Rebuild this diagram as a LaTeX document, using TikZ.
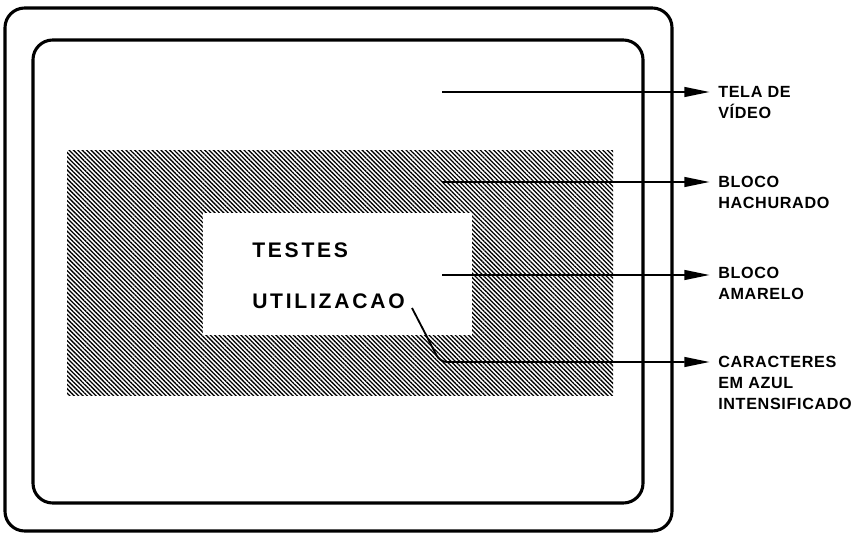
\documentclass[tikz,border=0pt]{standalone}
\usepackage{fontspec}
\setmainfont{Liberation Sans}
\newfontfamily\rotfont[LetterSpace=4]{Liberation Sans}
\newfontfamily\telafont[LetterSpace=13]{Liberation Sans}
\usetikzlibrary{arrows.meta,patterns.meta}
\tikzset{
  moldura/.style={line width=2.2pt, rounded corners=14pt},
  seta/.style={line width=1.3pt, -{Triangle[length=18pt,width=7pt]}, shorten >=6pt},
  rotulo/.style={anchor=north west, align=left, inner sep=0pt,
    font=\rotfont\bfseries\fontsize{11.5}{15}\selectfont},
  texto/.style={anchor=west, inner sep=0pt, font=\telafont\bfseries\fontsize{15}{18}\selectfont},
}
\begin{document}
\begin{tikzpicture}[x=0.025cm,y=-0.025cm]
        \useasboundingbox (0,0) rectangle (853,536);

        % Moldura do monitor
        \draw[moldura] (5,8) rectangle (672,531);
        \draw[moldura] (33,40) rectangle (643,503);

        % Bloco hachurado e bloco amarelo
        \fill[pattern={Lines[angle=-45,distance=2.2pt,line width=0.9pt]}] (67,151) rectangle (613,396);
        \fill[white] (203,213) rectangle (472,335);

        % Textos na tela
        \node[texto] (testes) at (252,250) {TESTES};
        \node[texto] (util) at (252,301) {UTILIZACAO};

        % Rótulos
        \node[rotulo] (tela) at (718,86) {TELA DE\\VÍDEO};
        \node[rotulo] (hach) at (718,176) {BLOCO\\HACHURADO};
        \node[rotulo] (amar) at (718,267) {BLOCO\\AMARELO};
        \node[rotulo] (car) at (718,356) {CARACTERES\\EM AZUL\\INTENSIFICADO};

        % Setas
        \coordinate (p1) at (442,92);
        \coordinate (p2) at (442,182);
        \coordinate (p3) at (442,275);
        \coordinate (ponta) at (412,308);
        \coordinate (dobra) at (440,362);
        \draw[seta] (p1) -- (p1 -| tela.west);
        \draw[seta] (p2) -- (p2 -| hach.west);
        \draw[seta] (p3) -- (p3 -| amar.west);
        \draw[seta, rounded corners=5pt] (ponta) -- (dobra) -- (dobra -| car.west);
\end{tikzpicture}
\end{document}
